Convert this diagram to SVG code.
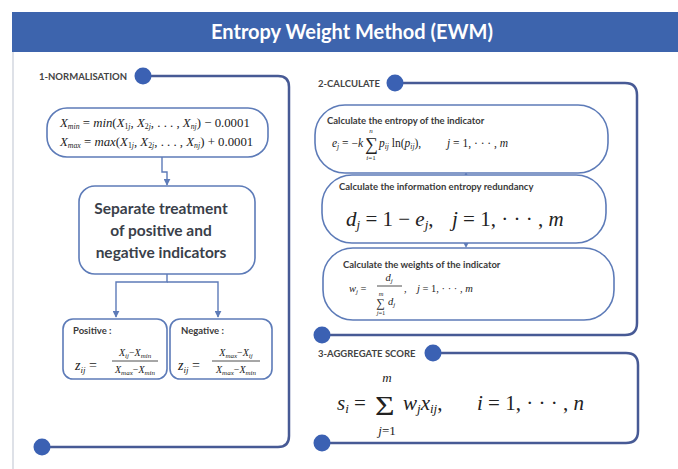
<svg xmlns="http://www.w3.org/2000/svg" width="678" height="469" viewBox="0 0 678 469">
<defs>
<style>
.sec{font-family:Lato,"Open Sans","Liberation Sans",sans-serif;font-weight:bold;font-size:9.5px;fill:#444444}
.lbl{font-family:Lato,"Open Sans","Liberation Sans",sans-serif;font-weight:bold;font-size:9.5px;fill:#3a3a3a}
.big{font-family:Lato,"Open Sans","Liberation Sans",sans-serif;font-weight:bold;font-size:15.5px;fill:#3a3f4a}
.m{font-family:"Liberation Serif","DejaVu Serif",serif;fill:#222222}
.i{font-style:italic}
.panel{fill:none;stroke:#475a95;stroke-width:2.5}
.dot{fill:#3b61b3}
.box{fill:#ffffff;stroke:#5d7bb8;stroke-width:1.6}
.conn{fill:none;stroke:#5d7bb8;stroke-width:1.4}
.bar{stroke:#222222;stroke-width:0.8}
</style>
<marker id="ah" viewBox="0 0 10 10" refX="9" refY="5" markerWidth="5" markerHeight="5" orient="auto"><path d="M0,0 L10,5 L0,10 z" fill="#5d7bb8"/></marker>
</defs>
<rect x="0" y="0" width="678" height="469" fill="#ffffff"/>
<line x1="13" y1="52" x2="13" y2="469" stroke="#c8cdd8" stroke-width="1.2"/>

<g id="title">
<rect x="12" y="12" width="666" height="40" fill="#3d64ad"/>
<text x="352" y="39" text-anchor="middle" font-family="Lato,'Open Sans','Liberation Sans',sans-serif" font-weight="bold" font-size="20" fill="#ffffff">Entropy Weight Method (EWM)</text>
</g>

<g id="section1">
<path class="panel" d="M143,76 H278 Q289,76 289,87 V436 Q289,447 278,447 H42"/>
<circle class="dot" cx="143" cy="76" r="8.5"/>
<circle class="dot" cx="42" cy="447" r="8.5"/>
<text class="sec" x="39" y="79.5">1-NORMALISATION</text>
</g>

<g id="section2">
<path class="panel" d="M395,83 H625 Q637,83 637,95 V323 Q637,335 625,335 H322"/>
<circle class="dot" cx="395" cy="83" r="8.5"/>
<circle class="dot" cx="322" cy="335" r="8.5"/>
<text class="sec" x="318" y="86.5">2-CALCULATE</text>
</g>

<g id="section3">
<path class="panel" d="M433,353 H626 Q638,353 638,365 V431 Q638,443 626,443 H322"/>
<circle class="dot" cx="433" cy="353" r="8.5"/>
<circle class="dot" cx="322" cy="443" r="8.5"/>
<text class="sec" x="318" y="356.5">3-AGGREGATE SCORE</text>
</g>

<g id="connectors">
<path class="conn" d="M162,157 V172 H167 V185" marker-end="url(#ah)"/>
<path class="conn" d="M167,274 V282 H116 V317" marker-end="url(#ah)"/>
<path class="conn" d="M167,282 H218 V317" marker-end="url(#ah)"/>
<path d="M466,172 L469,178 L463,178 z" fill="#5d7bb8"/>
<path d="M466,248 L469,242 L463,242 z" fill="#5d7bb8"/>
</g>

<g id="minmax">
<rect class="box" x="47" y="108" width="221" height="49" rx="20" ry="20"/>
<text class="m" x="60" y="127" font-size="12.8"><tspan class="i">X</tspan><tspan class="i" font-size="7.8" dy="2">min</tspan><tspan dy="-2"> = </tspan><tspan class="i">min</tspan>(<tspan class="i">X</tspan><tspan font-size="7.8" dy="2">1<tspan class="i">j</tspan></tspan><tspan dy="-2">, </tspan><tspan class="i">X</tspan><tspan font-size="7.8" dy="2">2<tspan class="i">j</tspan></tspan><tspan dy="-2">, . . . , </tspan><tspan class="i">X</tspan><tspan class="i" font-size="7.8" dy="2">nj</tspan><tspan dy="-2">) − 0.0001</tspan></text>
<text class="m" x="60" y="146" font-size="12.8"><tspan class="i">X</tspan><tspan class="i" font-size="7.8" dy="2">max</tspan><tspan dy="-2"> = </tspan><tspan class="i">max</tspan>(<tspan class="i">X</tspan><tspan font-size="7.8" dy="2">1<tspan class="i">j</tspan></tspan><tspan dy="-2">, </tspan><tspan class="i">X</tspan><tspan font-size="7.8" dy="2">2<tspan class="i">j</tspan></tspan><tspan dy="-2">, . . . , </tspan><tspan class="i">X</tspan><tspan class="i" font-size="7.8" dy="2">nj</tspan><tspan dy="-2">) + 0.0001</tspan></text>
</g>

<g id="separate">
<rect class="box" x="79" y="186" width="176" height="88" rx="16" ry="16"/>
<text class="big" x="161" y="214" text-anchor="middle">Separate treatment</text>
<text class="big" x="161" y="236" text-anchor="middle">of positive and</text>
<text class="big" x="161" y="258" text-anchor="middle">negative indicators</text>
</g>

<g id="positive">
<rect class="box" x="63" y="319" width="104" height="60" rx="10" ry="10"/>
<text class="lbl" x="73" y="334">Positive :</text>
<text class="m" x="75" y="370" font-size="14"><tspan class="i">z</tspan><tspan class="i" font-size="9" dy="3">ij</tspan><tspan dy="-3"> =</tspan></text>
<text class="m" x="135" y="356" font-size="10" text-anchor="middle"><tspan class="i">X</tspan><tspan class="i" font-size="7" dy="2">ij</tspan><tspan dy="-2">−</tspan><tspan class="i">X</tspan><tspan class="i" font-size="7" dy="2">min</tspan></text>
<line class="bar" x1="112" y1="361" x2="158" y2="361"/>
<text class="m" x="135" y="373" font-size="10" text-anchor="middle"><tspan class="i">X</tspan><tspan class="i" font-size="7" dy="2">max</tspan><tspan dy="-2">−</tspan><tspan class="i">X</tspan><tspan class="i" font-size="7" dy="2">min</tspan></text>
</g>

<g id="negative">
<rect class="box" x="170" y="319" width="102" height="60" rx="10" ry="10"/>
<text class="lbl" x="181" y="334">Negative :</text>
<text class="m" x="178" y="370" font-size="14"><tspan class="i">z</tspan><tspan class="i" font-size="9" dy="3">ij</tspan><tspan dy="-3"> =</tspan></text>
<text class="m" x="236" y="356" font-size="10" text-anchor="middle"><tspan class="i">X</tspan><tspan class="i" font-size="7" dy="2">max</tspan><tspan dy="-2">−</tspan><tspan class="i">X</tspan><tspan class="i" font-size="7" dy="2">ij</tspan></text>
<line class="bar" x1="212" y1="361" x2="260" y2="361"/>
<text class="m" x="236" y="373" font-size="10" text-anchor="middle"><tspan class="i">X</tspan><tspan class="i" font-size="7" dy="2">max</tspan><tspan dy="-2">−</tspan><tspan class="i">X</tspan><tspan class="i" font-size="7" dy="2">min</tspan></text>
</g>

<g id="entropy">
<rect class="box" x="315" y="105" width="293" height="68" rx="30" ry="30"/>
<text class="lbl" x="327" y="124">Calculate the entropy of the indicator</text>
<text class="m" x="332" y="147" font-size="11.5"><tspan class="i">e</tspan><tspan class="i" font-size="7.5" dy="2">j</tspan><tspan dy="-2"> = −</tspan><tspan class="i">k</tspan></text>
<text class="m" x="365" y="150" font-size="18">∑</text>
<text class="m i" x="371" y="133" font-size="7" text-anchor="middle">n</text>
<text class="m" x="371" y="160" font-size="7" text-anchor="middle"><tspan class="i">i</tspan>=1</text>
<text class="m" x="379" y="147" font-size="11.5"><tspan class="i">p</tspan><tspan class="i" font-size="7.5" dy="2">ij</tspan><tspan dy="-2"> ln(</tspan><tspan class="i">p</tspan><tspan class="i" font-size="7.5" dy="2">ij</tspan><tspan dy="-2">),</tspan></text>
<text class="m" x="447" y="147" font-size="11.5"><tspan class="i">j</tspan> = 1, · · · , <tspan class="i">m</tspan></text>
</g>

<g id="redundancy">
<rect class="box" x="322" y="175" width="284" height="68" rx="30" ry="30"/>
<text class="lbl" x="339" y="190">Calculate the information entropy redundancy</text>
<text class="m" x="346" y="226" font-size="21"><tspan class="i">d</tspan><tspan class="i" font-size="13" dy="3">j</tspan><tspan dy="-3"> = 1 − </tspan><tspan class="i">e</tspan><tspan class="i" font-size="13" dy="3">j</tspan><tspan dy="-3">,</tspan></text>
<text class="m" x="452" y="226" font-size="21"><tspan class="i">j</tspan> = 1, · · · , <tspan class="i">m</tspan></text>
</g>

<g id="weights">
<rect class="box" x="323" y="248" width="291" height="72" rx="30" ry="30"/>
<text class="lbl" x="343" y="268">Calculate the weights of the indicator</text>
<text class="m" x="349" y="292" font-size="10.5"><tspan class="i">w</tspan><tspan class="i" font-size="7" dy="2">j</tspan><tspan dy="-2"> =</tspan></text>
<text class="m" x="389" y="281" font-size="10.5" text-anchor="middle"><tspan class="i">d</tspan><tspan class="i" font-size="7" dy="2">j</tspan></text>
<line class="bar" x1="377" y1="286" x2="402" y2="286"/>
<text class="m i" x="381" y="296" font-size="6.5" text-anchor="middle">m</text>
<text class="m" x="376" y="307" font-size="12">∑</text>
<text class="m" x="381" y="315" font-size="6.5" text-anchor="middle"><tspan class="i">j</tspan>=1</text>
<text class="m" x="388" y="305" font-size="10.5"><tspan class="i">d</tspan><tspan class="i" font-size="7" dy="2">j</tspan></text>
<text class="m" x="404" y="292" font-size="10.5">,</text>
<text class="m" x="417" y="292" font-size="10.5"><tspan class="i">j</tspan> = 1, · · · , <tspan class="i">m</tspan></text>
</g>

<g id="aggregate">
<text class="m" x="337" y="410" font-size="21"><tspan class="i">s</tspan><tspan class="i" font-size="13" dy="3">i</tspan><tspan dy="-3"> =</tspan></text>
<text class="m" x="0" y="0" font-size="28" transform="translate(375,415) scale(1.2,1)">Σ</text>
<text class="m i" x="387" y="382" font-size="13" text-anchor="middle">m</text>
<text class="m" x="387" y="435" font-size="13" text-anchor="middle"><tspan class="i">j</tspan>=1</text>
<text class="m" x="403" y="410" font-size="21"><tspan class="i">w</tspan><tspan class="i" font-size="13" dy="3">j</tspan><tspan class="i" dy="-3">x</tspan><tspan class="i" font-size="13" dy="3">ij</tspan><tspan dy="-3">,</tspan></text>
<text class="m" x="477" y="410" font-size="21"><tspan class="i">i</tspan> = 1, · · · , <tspan class="i">n</tspan></text>
</g>
</svg>
